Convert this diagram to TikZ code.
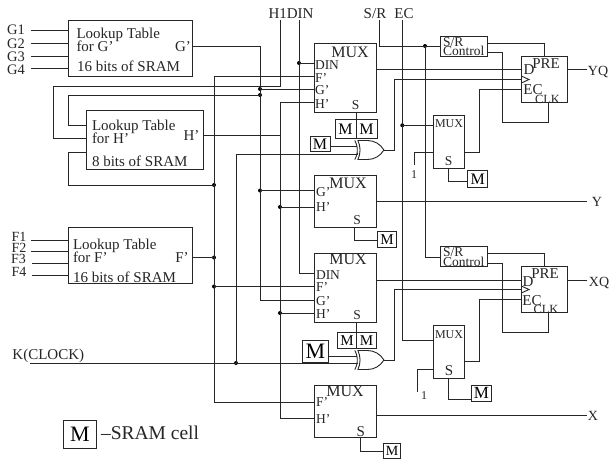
\documentclass[tikz,border=0pt]{standalone}
\usepackage{fontspec}
\setmainfont{Liberation Serif}
\usetikzlibrary{shapes.gates.logic.US}
\newcommand\bx[6]{%
  \pgfmathsetmacro\bxw{#4-#2}\pgfmathsetmacro\bxh{#5-#3}%
  \pgfmathsetmacro\bxx{(#2+#4)/2}\pgfmathsetmacro\bxy{(#3+#5)/2}%
  \node[box,minimum width=\bxw pt,minimum height=\bxh pt] (#1) at (\bxx,\bxy) {#6};}
\newcommand\fs[1]{\fontsize{#1}{#1}\selectfont}
\tikzset{
  box/.style={draw=black!85,line width=0.9pt,inner sep=0pt,outer sep=0pt,rectangle},
  wire/.style={draw=black!85,line width=0.9pt,line join=miter},
  dot/.style={circle,fill=black,inner sep=0pt,outer sep=0pt,minimum size=4pt},
  txt/.style={inner sep=0pt,outer sep=0pt,text height=10pt,text depth=0pt,text=black!85,font=\fs{15}},
  ltxt/.style={txt,anchor=west},
  pin/.style={txt,font=\fs{13.5},text height=9pt},
  small/.style={txt,font=\fs{12},text height=8pt},
  big/.style={txt,font=\fs{16},text height=10.5pt},
  xorg/.style={xor gate US,draw=black!85,line width=0.9pt,logic gate inputs=nn,inner sep=0pt,outer sep=0pt,minimum width=26pt,minimum height=19pt},
}
\begin{document}
\begin{tikzpicture}[x=1pt,y=-1pt]
\useasboundingbox[fill=white] (0,0) rectangle (609,459);
% lookup tables
\bx{lutg}{68.5}{20}{192}{76}{}
\bx{luth}{86}{110}{203}{169.5}{}
\bx{lutf}{68.5}{227.7}{192}{283.7}{}
% muxes
\bx{muxa}{314.3}{43}{376}{112}{}
\bx{muxb}{314.3}{175}{376}{227.7}{}
\bx{muxc}{314.3}{253.3}{376}{322.3}{}
\bx{muxd}{314.3}{385}{376}{437.7}{}
\bx{smuxa}{433}{115.7}{464}{168.3}{}
\bx{smuxb}{433}{325.7}{464}{378.7}{}
% flip-flops and controls
\bx{ffa}{521.3}{56.7}{567.3}{102.3}{}
\bx{ffb}{521.3}{266.7}{567.3}{312.3}{}
\bx{sra}{440.7}{36.7}{487}{56}{}
\bx{srb}{440.7}{246.7}{487}{266.7}{}
% SRAM cells
\bx{ma}{335}{119.3}{356}{138.3}{\fs{16}M}
\bx{mb}{356}{119.3}{377}{138.3}{\fs{16}M}
\bx{mc}{310}{136}{330}{151.7}{\fs{16}M}
\bx{md}{467.7}{170.7}{487.7}{187.3}{\fs{16}M}
\bx{me}{377.7}{231}{396.3}{247.3}{\fs{15}M}
\bx{mf}{337.3}{332.3}{356.7}{348.3}{\fs{15}M}
\bx{mg}{356.7}{332.3}{376.3}{348.3}{\fs{15}M}
\bx{mh}{302.7}{340.7}{328.3}{362.3}{\fs{22}M}
\bx{mi}{471.7}{385}{491}{401.7}{\fs{17}M}
\bx{mj}{383.7}{443.7}{400.3}{458.3}{\fs{14}M}
\bx{mk}{63.3}{420.7}{96.7}{448.3}{\fs{22}M}
% gates
\node[xorg] (xa) at (369,150) {};
\node[xorg] (xb) at (369,360) {};
% junction dots
\node[dot] (dga) at (260,89) {};
\node[dot] (dgb) at (260,95) {};
\node[dot] (dgc) at (260,190.5) {};
\node[dot] (dfa) at (214,185) {};
\node[dot] (dfb) at (214,257.5) {};
\node[dot] (dfc) at (214,286.5) {};
\node[dot] (dda) at (299,63) {};
\node[dot] (dha) at (280,207) {};
\node[dot] (dhb) at (280,313) {};
\node[dot] (dk) at (236,363) {};
\node[dot] (dsr) at (425,46) {};
\node[dot] (dec) at (402.3,125.3) {};
% free ends
\coordinate (gai) at (31,30.5);\coordinate (gbi) at (31,43);\coordinate (gci) at (31,56);\coordinate (gdi) at (31,68);
\coordinate (fai) at (31,240.3);\coordinate (fbi) at (31,251.3);\coordinate (fci) at (32,263.3);\coordinate (fdi) at (32,275.3);
\coordinate (hti) at (280,20);\coordinate (dti) at (299,20);\coordinate (sti) at (379.3,20);\coordinate (eti) at (402.3,20);
\coordinate (ki) at (30,363);\coordinate (yqo) at (587,69.7);\coordinate (yo) at (587,201.3);\coordinate (xqo) at (587,280.7);\coordinate (xo) at (587,415.7);
\coordinate (onea) at (414.3,165);\coordinate (oneb) at (417.7,391.7);
% inputs
\draw[wire] (gai) -- (gai -| lutg.west);
\draw[wire] (gbi) -- (gbi -| lutg.west);
\draw[wire] (gci) -- (gci -| lutg.west);
\draw[wire] (gdi) -- (gdi -| lutg.west);
\draw[wire] (fai) -- (fai -| lutf.west);
\draw[wire] (fbi) -- (fbi -| lutf.west);
\draw[wire] (fci) -- (fci -| lutf.west);
\draw[wire] (fdi) -- (fdi -| lutf.west);
% H1
\draw[wire] (hti) -- (280,86) -- (53,86) -- (53,138.7) -- (luth.west |- 0,138.7);
% H'
\draw[wire] (luth.east |- 0,135.5) -- (280,135.5);
\draw[wire] (muxa.west |- 0,102.7) -- (280,102.7) -- (280,418) -- (muxd.west |- 0,418);
\draw[wire] (dha.center) -- (muxb.west |- dha);
\draw[wire] (dhb.center) -- (muxc.west |- dhb);
% G'
\draw[wire] (lutg.east |- 0,46.5) -- (260,46.5) -- (260,300) -- (muxc.west |- 0,300);
\draw[wire] (dga.center) -- (muxa.west |- dga);
\draw[wire] (dgb.center) -- (68.5,95) -- (68.5,125.5) -- (luth.west |- 0,125.5);
\draw[wire] (dgc.center) -- (muxb.west |- dgc);
% F'
\draw[wire] (muxa.west |- 0,76) -- (214,76) -- (214,402) -- (muxd.west |- 0,402);
\draw[wire] (lutf.east |- dfb) -- (dfb.center);
\draw[wire] (dfa.center) -- (68.5,185) -- (68.5,152) -- (luth.west |- 0,152);
\draw[wire] (dfc.center) -- (muxc.west |- dfc);
% DIN
\draw[wire] (dti) -- (299,273) -- (muxc.west |- 0,273);
\draw[wire] (dda.center) -- (muxa.west |- dda);
% clock
\draw[wire] (ki) -- (xb.input 2 |- dk) -- (xb.input 2);
\draw[wire] (dk.center) -- (236,154) -- (xa.input 2 |- 0,154) -- (xa.input 2);
\draw[wire] (mc.east |- xa.input 1) -- (xa.input 1);
\draw[wire] (mh.east |- xb.input 1) -- (xb.input 1);
% gate outputs
\draw[wire] (xa.output) -- (394,150) -- (394,79.5) -- (ffa.west |- 0,79.5);
\draw[wire] (xb.output) -- (394,360) -- (394,289.3) -- (ffb.west |- 0,289.3);
% mux selects
\draw[wire] (ma.north east |- muxa.south) -- (ma.south east);
\draw[wire] (mf.north east |- muxc.south) -- (mf.south east);
\draw[wire] (smuxa.south) -- (448.5,181.7) -- (md.west |- 0,181.7);
\draw[wire] (smuxb.south) -- (448.5,399) -- (mi.west |- 0,399);
\draw[wire] (354.3,227.7) -- (354.3,240) -- (me.west |- 0,240);
\draw[wire] (360.3,437.7) -- (360.3,451.7) -- (mj.west |- 0,451.7);
% mux outputs
\draw[wire] (muxa.east |- 0,69.3) -- (ffa.west |- 0,69.3);
\draw[wire] (muxb.east |- yo) -- (yo);
\draw[wire] (muxc.east |- 0,280) -- (ffb.west |- 0,280);
\draw[wire] (muxd.east |- xo) -- (xo);
\draw[wire] (ffa.east |- yqo) -- (yqo);
\draw[wire] (ffb.east |- xqo) -- (xqo);
% S/R and EC
\draw[wire] (sti) -- (379.3,46) -- (sra.west |- 0,46);
\draw[wire] (dsr.center) -- (425,257.3) -- (srb.west |- 0,257.3);
\draw[wire] (eti) -- (402.3,340) -- (smuxb.west |- 0,340);
\draw[wire] (dec.center) -- (smuxa.west |- dec);
% S/R control outputs
\draw[wire] (sra.east |- 0,43.3) -- (544,43.3) -- (544,56.7);
\draw[wire] (sra.east |- 0,52.7) -- (502.3,52.7) -- (502.3,122.3) -- (548.3,122.3) -- (548.3,102.3);
\draw[wire] (srb.east |- 0,253.3) -- (544,253.3) -- (544,266.7);
\draw[wire] (srb.east |- 0,263.3) -- (502.3,263.3) -- (502.3,332.3) -- (548.3,332.3) -- (548.3,312.3);
% small mux in/out
\draw[wire] (onea) -- (414.3,152) -- (smuxa.west |- 0,152);
\draw[wire] (oneb) -- (417.7,369.3) -- (smuxb.west |- 0,369.3);
\draw[wire] (smuxa.east |- 0,152) -- (479,152) -- (479,89.3) -- (ffa.west |- 0,89.3);
\draw[wire] (smuxb.east |- 0,361.7) -- (479,361.7) -- (479,299.3) -- (ffb.west |- 0,299.3);
% clock triangles
\draw[wire] (521.3,76) -- (529,79.5) -- (521.3,83);
\draw[wire] (521.3,286) -- (529,289.5) -- (521.3,293);
% labels
\node[txt,font=\fs{14.5}] (tga) at (16,29) {G1};
\node[txt,font=\fs{14.5}] (tgb) at (16,43) {G2};
\node[txt,font=\fs{14.5}] (tgc) at (16,56) {G3};
\node[txt,font=\fs{14.5}] (tgd) at (16,69) {G4};
\node[txt,font=\fs{14},text height=9pt] (tfa) at (19,236.5) {F1};
\node[txt,font=\fs{14},text height=9pt] (tfb) at (19,247.5) {F2};
\node[txt,font=\fs{14},text height=9pt] (tfc) at (18.5,258.5) {F3};
\node[txt,font=\fs{14},text height=9pt] (tfd) at (19,272) {F4};
\node[ltxt] (lga) at (76.5,33) {Lookup Table};
\node[ltxt] (lgb) at (76.5,46) {for G’};
\node[ltxt] (lgc) at (77,66) {16 bits of SRAM};
\node[txt] (lgd) at (183,46) {G’};
\node[ltxt] (lha) at (92,125) {Lookup Table};
\node[ltxt] (lhb) at (92,138) {for H’};
\node[ltxt] (lhc) at (92,161) {8 bits of SRAM};
\node[txt] (lhd) at (191.5,135) {H’};
\node[ltxt] (lfa) at (73,244) {Lookup Table};
\node[ltxt] (lfb) at (73,257) {for F’};
\node[ltxt] (lfc) at (73,277) {16 bits of SRAM};
\node[txt] (lfd) at (182,257) {F’};
\node[txt] (th) at (291,13) {H1DIN};
\node[txt] (ts) at (375,13) {S/R};
\node[txt] (te) at (404,13) {EC};
\node[ltxt] (tk) at (12.5,354) {K(CLOCK)};
\node[ltxt,font=\fs{19.5},text height=13pt] (tl) at (101,433) {–SRAM cell};
% mux A
\node[big] (a0) at (350,52) {MUX};
\node[pin,anchor=west] (a1) at (315,65) {DIN};
\node[pin,anchor=west] (a2) at (315,78) {F’};
\node[pin,anchor=west] (a3) at (315,89.5) {G’};
\node[pin,anchor=west] (a4) at (315,104) {H’};
\node[pin] (a5) at (355.5,105) {S};
% mux B
\node[big] (b0) at (348,183) {MUX};
\node[pin,anchor=west] (b1) at (316,192) {G’};
\node[pin,anchor=west] (b2) at (316,207) {H’};
\node[pin] (b3) at (357,220) {S};
% mux C
\node[big] (c0) at (348,259) {MUX};
\node[pin,anchor=west] (c1) at (316,274.5) {DIN};
\node[pin,anchor=west] (c2) at (316,287) {F’};
\node[pin,anchor=west] (c3) at (316,301) {G’};
\node[pin,anchor=west] (c4) at (316,314) {H’};
\node[pin] (c5) at (357,315) {S};
% mux D
\node[big] (d0) at (345,391) {MUX};
\node[pin,anchor=west] (d1) at (316,402) {F’};
\node[pin,anchor=west] (d2) at (316,419) {H’};
\node[txt] (d3) at (360.7,431) {S};
% small muxes
\node[small] (e0) at (449,123) {MUX};
\node[pin] (e1) at (448.5,161) {S};
\node[small] (e2) at (414,174) {1};
\node[small] (f0) at (449,334) {MUX};
\node[txt] (f1) at (449,370) {S};
\node[small] (f2) at (424,395) {1};
% flip-flops
\node[txt] (g1) at (529,69.5) {D};
\node[txt] (g2) at (546,63) {PRE};
\node[txt] (g3) at (533,89) {EC};
\node[small,font=\fs{12.5}] (g4) at (547.5,99) {CLK};
\node[txt] (h1) at (528,281) {D};
\node[txt] (h2) at (545,273) {PRE};
\node[txt] (h3) at (532,300) {EC};
\node[small,font=\fs{12.5}] (h4) at (546,309) {CLK};
% S/R control
\node[pin,anchor=west] (i1) at (443,42) {S/R};
\node[pin,anchor=west] (i2) at (443,51) {Control};
\node[pin,anchor=west] (j1) at (443,252) {S/R};
\node[pin,anchor=west] (j2) at (443,262) {Control};
% outputs
\node[txt,font=\fs{14}] (o1) at (598,70) {YQ};
\node[txt,font=\fs{14}] (o2) at (597,201.5) {Y};
\node[txt,font=\fs{14}] (o3) at (599,281) {XQ};
\node[txt,font=\fs{14}] (o4) at (593,415.7) {X};
\end{tikzpicture}
\end{document}
